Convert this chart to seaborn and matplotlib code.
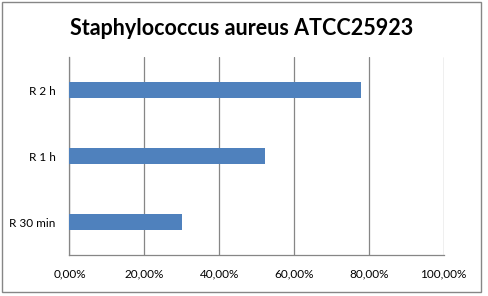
import matplotlib
matplotlib.use("Agg")
import matplotlib.pyplot as plt
import seaborn as sns
import pandas as pd
from matplotlib.patches import Rectangle
from matplotlib.ticker import FuncFormatter

categories = ["R 2 h", "R 1 h", "R 30 min"]
values = [0.778, 0.522, 0.300]
xticks = [0.0, 0.2, 0.4, 0.6, 0.8, 1.0]
title = "Staphylococcus aureus ATCC25923"

sns.set_theme(style="white")
plt.rcParams['font.family'] = ['Lato', 'DejaVu Sans']

df = pd.DataFrame({"cat": categories, "val": values})

fig = plt.figure(figsize=(4.88, 2.96), dpi=100)
ax = fig.add_axes([0.1424, 0.1385, 0.9092 - 0.1424, 0.8074 - 0.1385])

sns.barplot(data=df, y="cat", x="val", order=categories, color="#4F81BD",
            saturation=1, width=0.24, linewidth=0, edgecolor="none", ax=ax, zorder=3)

ax.set_xlim(0, 1.0)
ax.set_xticks(xticks)
ax.xaxis.set_major_formatter(FuncFormatter(lambda v, p: f"{v*100:.2f}%".replace(".", ",")))
ax.set_xlabel("")
ax.set_ylabel("")
ax.grid(axis="x", color="#868686", linewidth=0.9, zorder=0)
ax.grid(axis="y", visible=False)
for s in ["top", "right"]:
    ax.spines[s].set_visible(False)
for s in ["left", "bottom"]:
    ax.spines[s].set_color("#868686")
    ax.spines[s].set_linewidth(0.9)
ax.tick_params(axis="x", length=0, pad=10, labelsize=8.5, labelcolor="#000000")
ax.tick_params(axis="y", length=0, pad=10, labelsize=8.5, labelcolor="#000000")

fig.text(0.496, 0.905, title, ha="center", va="center", fontsize=15.5,
         fontweight="bold", color="black")

fig.patches.append(Rectangle((2/488, 4/296), 479/488, 290/296, transform=fig.transFigure,
                             fill=False, edgecolor="#868686", linewidth=1.0))

fig.savefig("out.png", dpi=100)
